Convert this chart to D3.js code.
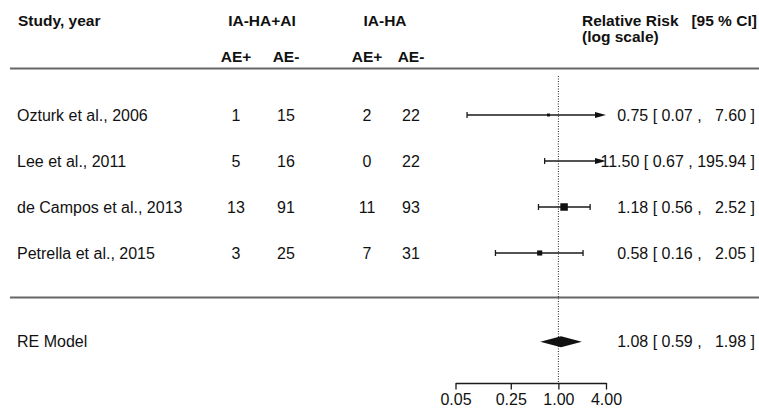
<!DOCTYPE html>
<html>
<head>
<meta charset="utf-8">
<script src="https://cdn.jsdelivr.net/npm/d3@7"></script>
<style>
  body { margin: 0; background: #fff; }
  svg text { font-family: "Liberation Sans", Arial, sans-serif; fill: #111; white-space: pre; }
</style>
</head>
<body>
<div class="canvas"></div>
<script>
// data
const studies = ['Ozturk et al., 2006', 'Lee et al., 2011', 'de Campos et al., 2013', 'Petrella et al., 2015'];
const aePosTreat = [1, 5, 13, 3];
const aeNegTreat = [15, 16, 91, 25];
const aePosCtrl = [2, 0, 11, 7];
const aeNegCtrl = [22, 22, 93, 31];
const rr = [0.75, 11.50, 1.18, 0.58];
const ciLow = [0.07, 0.67, 0.56, 0.16];
const ciHigh = [7.60, 195.94, 2.52, 2.05];
const weights = [9, 6, 58, 27];
const reModel = {est: 1.08, lo: 0.59, hi: 1.98};
const tickVals = [0.05, 0.25, 1, 4];

const width = 759, height = 409;

const svg = d3.select('.canvas')
    .append('svg')
    .attr('width', width)
    .attr('height', height);

// scales
const x = d3.scaleLog().domain([0.05, 4]).range([455.5, 606]);
const y = d3.scaleLinear().domain([0, 3]).range([115, 253]);
const reY = y(4.93);
const size = d3.scaleSqrt().domain([0, d3.max(weights)]).range([0, 7.5]);

// columns for the count table
const colX = {aePosT: 236, aeNegT: 286, aePosC: 367, aeNegC: 411};

const ink = '#111';
const fs = '16px';

// header
const header = svg.append('g').attr('font-size', '15.5px').attr('font-weight', 'bold');
header.append('text').attr('x', 18).attr('y', 26).text('Study, year');
header.append('text').attr('x', 262).attr('y', 26).attr('text-anchor', 'middle').text('IA-HA+AI');
header.append('text').attr('x', 385).attr('y', 26).attr('text-anchor', 'middle').text('IA-HA');
header.append('text').attr('x', colX.aePosT).attr('y', 62).attr('text-anchor', 'middle').text('AE+');
header.append('text').attr('x', colX.aeNegT).attr('y', 62).attr('text-anchor', 'middle').text('AE-');
header.append('text').attr('x', colX.aePosC).attr('y', 62).attr('text-anchor', 'middle').text('AE+');
header.append('text').attr('x', colX.aeNegC).attr('y', 62).attr('text-anchor', 'middle').text('AE-');
header.append('text').attr('x', 582).attr('y', 25.5).text('Relative Risk   [95 % CI]');
header.append('text').attr('x', 582).attr('y', 41.5).text('(log scale)');

// horizontal rules
svg.selectAll('line.rule').data([68.5, 297.5]).join('line')
    .attr('class', 'rule')
    .attr('x1', 10).attr('x2', width)
    .attr('y1', d => d).attr('y2', d => d)
    .attr('stroke', '#666').attr('stroke-width', 2.2);

// reference line at RR = 1
svg.append('line')
    .attr('x1', x(1)).attr('x2', x(1))
    .attr('y1', 76).attr('y2', 383)
    .attr('stroke', '#222').attr('stroke-width', 1)
    .attr('stroke-dasharray', '1,1.5');

// study rows
const rows = svg.append('g').attr('font-size', fs);
const idx = d3.range(studies.length);

rows.selectAll('text.study').data(idx).join('text')
    .attr('class', 'study')
    .attr('x', 17).attr('y', i => y(i) + 5.5)
    .text(i => studies[i]);

const countCols = [[aePosTreat, colX.aePosT], [aeNegTreat, colX.aeNegT], [aePosCtrl, colX.aePosC], [aeNegCtrl, colX.aeNegC]];
countCols.forEach(([arr, cx]) => {
    rows.selectAll(null).data(idx).join('text')
        .attr('x', cx).attr('y', i => y(i) + 5.5)
        .attr('text-anchor', 'middle')
        .text(i => arr[i]);
});

const fmt = d3.format('.2f');
rows.selectAll('text.ci').data(idx).join('text')
    .attr('class', 'ci')
    .attr('x', 755).attr('y', i => y(i) + 5.5)
    .attr('text-anchor', 'end')
    .text(i => `${fmt(rr[i])} [ ${fmt(ciLow[i])} , ${ciHigh[i] >= 100 ? fmt(ciHigh[i]) : '  ' + fmt(ciHigh[i])} ]`);

// CI lines (clipped to axis limits, arrow when beyond)
const [xMin, xMax] = x.domain();
const forest = svg.append('g').attr('stroke', '#1a1a1a').attr('stroke-width', 1.3);
idx.forEach(i => {
    const yy = y(i);
    const lo = Math.max(ciLow[i], xMin), hi = Math.min(ciHigh[i], xMax);
    forest.append('line')
        .attr('x1', x(lo)).attr('x2', ciHigh[i] > xMax ? x(hi) - 8 : x(hi))
        .attr('y1', yy).attr('y2', yy);
    if (ciLow[i] >= xMin) {
        forest.append('line').attr('x1', x(lo)).attr('x2', x(lo)).attr('y1', yy - 3).attr('y2', yy + 3);
    }
    if (ciHigh[i] <= xMax) {
        forest.append('line').attr('x1', x(hi)).attr('x2', x(hi)).attr('y1', yy - 3).attr('y2', yy + 3);
    } else {
        forest.append('path')
            .attr('d', `M${x(hi)},${yy} L${x(hi) - 11},${yy - 3} L${x(hi) - 11},${yy + 3} Z`)
            .attr('fill', '#111').attr('stroke', 'none');
    }
});

// point estimates
svg.selectAll('rect.pt').data(idx.filter(i => rr[i] <= xMax)).join('rect')
    .attr('class', 'pt')
    .attr('x', i => x(rr[i]) - size(weights[i]) / 2)
    .attr('y', i => y(i) - size(weights[i]) / 2)
    .attr('width', i => size(weights[i]))
    .attr('height', i => size(weights[i]))
    .attr('fill', ink);

// RE model summary
svg.append('text').attr('font-size', fs)
    .attr('x', 17).attr('y', reY + 5.5).text('RE Model');
svg.append('path')
    .attr('d', `M${x(reModel.lo)},${reY} L${x(reModel.est)},${reY - 5.5} L${x(reModel.hi)},${reY} L${x(reModel.est)},${reY + 5.5} Z`)
    .attr('fill', ink);
svg.append('text').attr('font-size', fs)
    .attr('x', 755).attr('y', reY + 5.5).attr('text-anchor', 'end')
    .text(`${fmt(reModel.est)} [ ${fmt(reModel.lo)} ,   ${fmt(reModel.hi)} ]`);

// axis
const axis = d3.axisBottom(x).tickValues(tickVals).tickFormat(fmt).tickSizeInner(6.5).tickSizeOuter(0);
const axisG = svg.append('g')
    .attr('transform', 'translate(0,383)')
    .call(axis);
axisG.select('.domain').attr('stroke', '#1a1a1a').attr('stroke-width', 1.3);
axisG.selectAll('.tick line').attr('stroke', '#1a1a1a').attr('stroke-width', 1.3);
axisG.selectAll('.tick text')
    .attr('font-size', fs)
    .attr('font-family', '"Liberation Sans", Arial, sans-serif')
    .attr('fill', ink)
    .attr('y', 9.5)
    .attr('dy', '0.75em');
</script>
</body>
</html>
